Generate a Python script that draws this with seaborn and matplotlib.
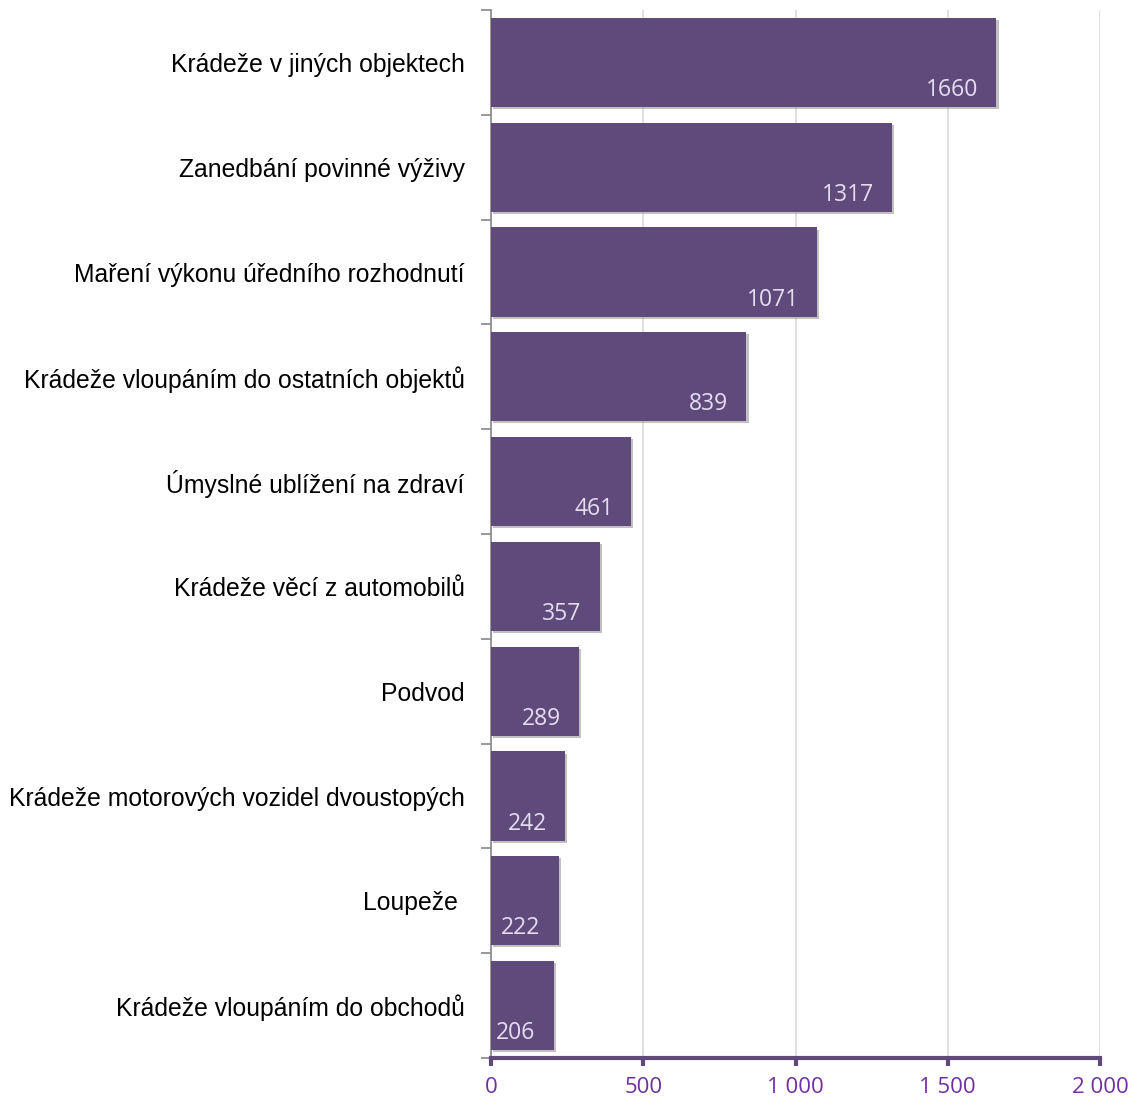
import matplotlib
matplotlib.use("Agg")
import matplotlib.pyplot as plt
import matplotlib.patheffects as pe
import seaborn as sns
import pandas as pd
import numpy as np

categories = [
    "Krádeže v jiných objektech",
    "Zanedbání povinné výživy",
    "Maření výkonu úředního rozhodnutí",
    "Krádeže vloupáním do ostatních objektů",
    "Úmyslné ublížení na zdraví",
    "Krádeže věcí z automobilů",
    "Podvod",
    "Krádeže motorových vozidel dvoustopých",
    "Loupeže ",
    "Krádeže vloupáním do obchodů",
]
values = [1660, 1317, 1071, 839, 461, 357, 289, 242, 222, 206]
xticks = [0, 500, 1000, 1500, 2000]
xtick_labels = ["0", "500", "1 000", "1 500", "2 000"]

sns.set_theme(style="white")
plt.rcParams['font.family'] = ['Liberation Sans Narrow', 'Liberation Sans', 'DejaVu Sans']

bar_color = "#604a7b"
purple_txt = "#7030a0"

df = pd.DataFrame({"cat": categories, "val": values})

fig = plt.figure(figsize=(11.34, 11.02), dpi=100)
ax = fig.add_axes([491/1134, 1 - 1058/1102, (1100 - 491)/1134, (1058 - 10)/1102])

sns.barplot(data=df, y="cat", x="val", orient="h", color=bar_color,
            saturation=1, width=0.85, ax=ax, zorder=3)

for p in ax.patches:
    p.set_edgecolor("none")
    p.set_path_effects([pe.SimplePatchShadow(offset=(1.5, -1.5), shadow_rgbFace="#999999", alpha=0.6), pe.Normal()])

for i, v in enumerate(values):
    ax.annotate(str(v), xy=(v, i + 0.425), xytext=(-13, 3.5), textcoords="offset points",
                ha="right", va="bottom", color="#e4def0", fontsize=16.5,
                family=['Open Sans', 'DejaVu Sans'], zorder=5)

ax.set_xlim(0, 2000)
ax.set_ylim(9.5, -0.5)
ax.set_xticks(xticks)
ax.set_xticklabels(xtick_labels, color=purple_txt, fontsize=16, family=['Open Sans', 'DejaVu Sans'])
ax.xaxis.grid(True, color="#d9d9d9", linewidth=1.2, zorder=0)
ax.set_axisbelow(True)
ax.set_xlabel("")
ax.set_ylabel("")

ax.set_yticks(range(len(categories)))
ax.set_yticklabels(categories, fontsize=17.8, color="black")
ax.set_yticks(np.arange(-0.5, len(categories), 1.0), minor=True)
ax.tick_params(axis="y", which="major", length=0, pad=19)
ax.tick_params(axis="y", which="minor", length=7, width=1.2, color="#888888", left=True)

ax.tick_params(axis="x", which="major", length=6, width=3, color=bar_color, bottom=True, pad=8, direction="out")

for s in ["top", "right"]:
    ax.spines[s].set_visible(False)
ax.spines["left"].set_color("#888888")
ax.spines["left"].set_linewidth(1.2)
ax.spines["bottom"].set_color(bar_color)
ax.spines["bottom"].set_linewidth(3)

fig.savefig("out.png", dpi=100, facecolor="white")
